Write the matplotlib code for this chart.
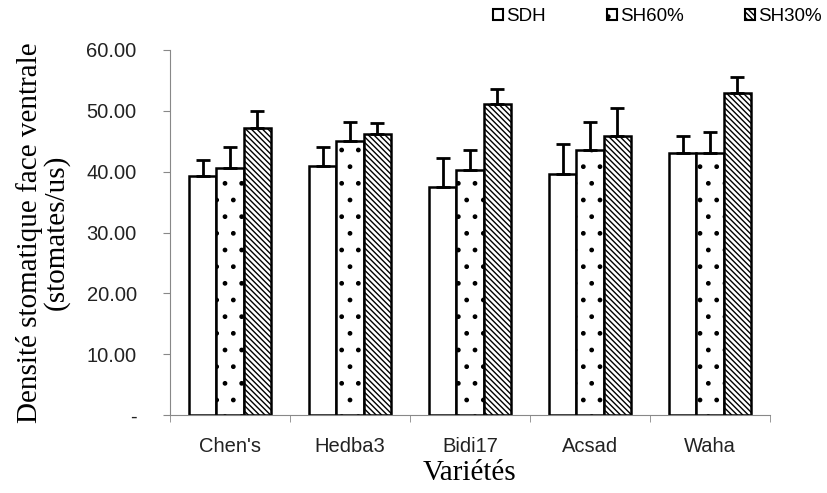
import numpy as np
import matplotlib.pyplot as plt
from matplotlib.patches import Patch

# data
varietes = ["Chen's", "Hedba3", "Bidi17", "Acsad", "Waha"]
sdh = [39.3, 40.9, 37.5, 39.6, 43.1]
sdh_err = [2.6, 3.2, 4.7, 4.9, 2.8]
sh60 = [40.6, 45.0, 40.3, 43.5, 43.1]
sh60_err = [3.5, 3.2, 3.3, 4.7, 3.4]
sh30 = [47.2, 46.2, 51.1, 45.9, 52.9]
sh30_err = [2.8, 1.8, 2.5, 4.6, 2.7]
yticks = [0, 10, 20, 30, 40, 50, 60]
ytick_labels = ["-", "10.00", "20.00", "30.00", "40.00", "50.00", "60.00"]
names = ['SDH', 'SH60%', 'SH30%']

plt.rcParams['hatch.color'] = '#444444'
plt.rcParams['hatch.linewidth'] = 1.0

fig = plt.figure(figsize=(8.27, 4.93), dpi=100)
ax = fig.add_axes([0.2056, 0.158, 0.7254, 0.7406])

x = np.arange(len(varietes))
w = 0.228
ekw = dict(ecolor='black', elinewidth=2, capsize=5, capthick=2)

hatches = ['', '.', '\\' * 6]
series = [(sdh, sdh_err), (sh60, sh60_err), (sh30, sh30_err)]
for i, (vals, err) in enumerate(series):
    pos = x + (i - 1) * w
    ax.bar(pos, vals, w, color='white', edgecolor='black', linewidth=1.8,
           hatch=hatches[i], zorder=2)
    ax.errorbar(pos, vals, yerr=[np.zeros(len(err)), err], fmt='none',
                zorder=3, **ekw)

ax.set_xlim(-0.5, len(varietes) - 0.5)
ax.set_ylim(0, 60)
ax.set_yticks(yticks)
ax.set_yticklabels(ytick_labels, fontsize=14.5, family='Liberation Sans', color='#222222')
ax.set_xticks(x)
ax.set_xticklabels(varietes, fontsize=14.5, family='Liberation Sans', color='#222222')
ax.set_xticks(np.arange(len(varietes) + 1) - 0.5, minor=True)
ax.tick_params(axis='x', which='major', length=0, pad=16)
ax.tick_params(axis='x', which='minor', length=5, color='#888888', direction='out')
ax.tick_params(axis='y', length=5, color='#888888', pad=19)

for s in ['top', 'right']:
    ax.spines[s].set_visible(False)
for s in ['left', 'bottom']:
    ax.spines[s].set_color('#888888')

ax.set_ylabel("Densité stomatique face ventrale\n(stomates/us)",
              family='Liberation Serif', fontsize=21, linespacing=0.98, labelpad=12)
ax.set_xlabel("Variétés", family='Liberation Serif', fontsize=21, labelpad=3)

# legend entries laid out like the original (one per column)
lx = [0.596, 0.734, 0.901]
for i in range(3):
    h = Patch(facecolor='white', edgecolor='black', linewidth=1.5, hatch=hatches[i])
    fig.legend([h], [names[i]], loc='center left', bbox_to_anchor=(lx[i], 0.966),
               frameon=False, borderpad=0, borderaxespad=0,
               handlelength=0.55, handleheight=0.55, handletextpad=0.15,
               prop={'family': 'Liberation Sans', 'size': 13.5})

fig.savefig('out.png', dpi=100)
